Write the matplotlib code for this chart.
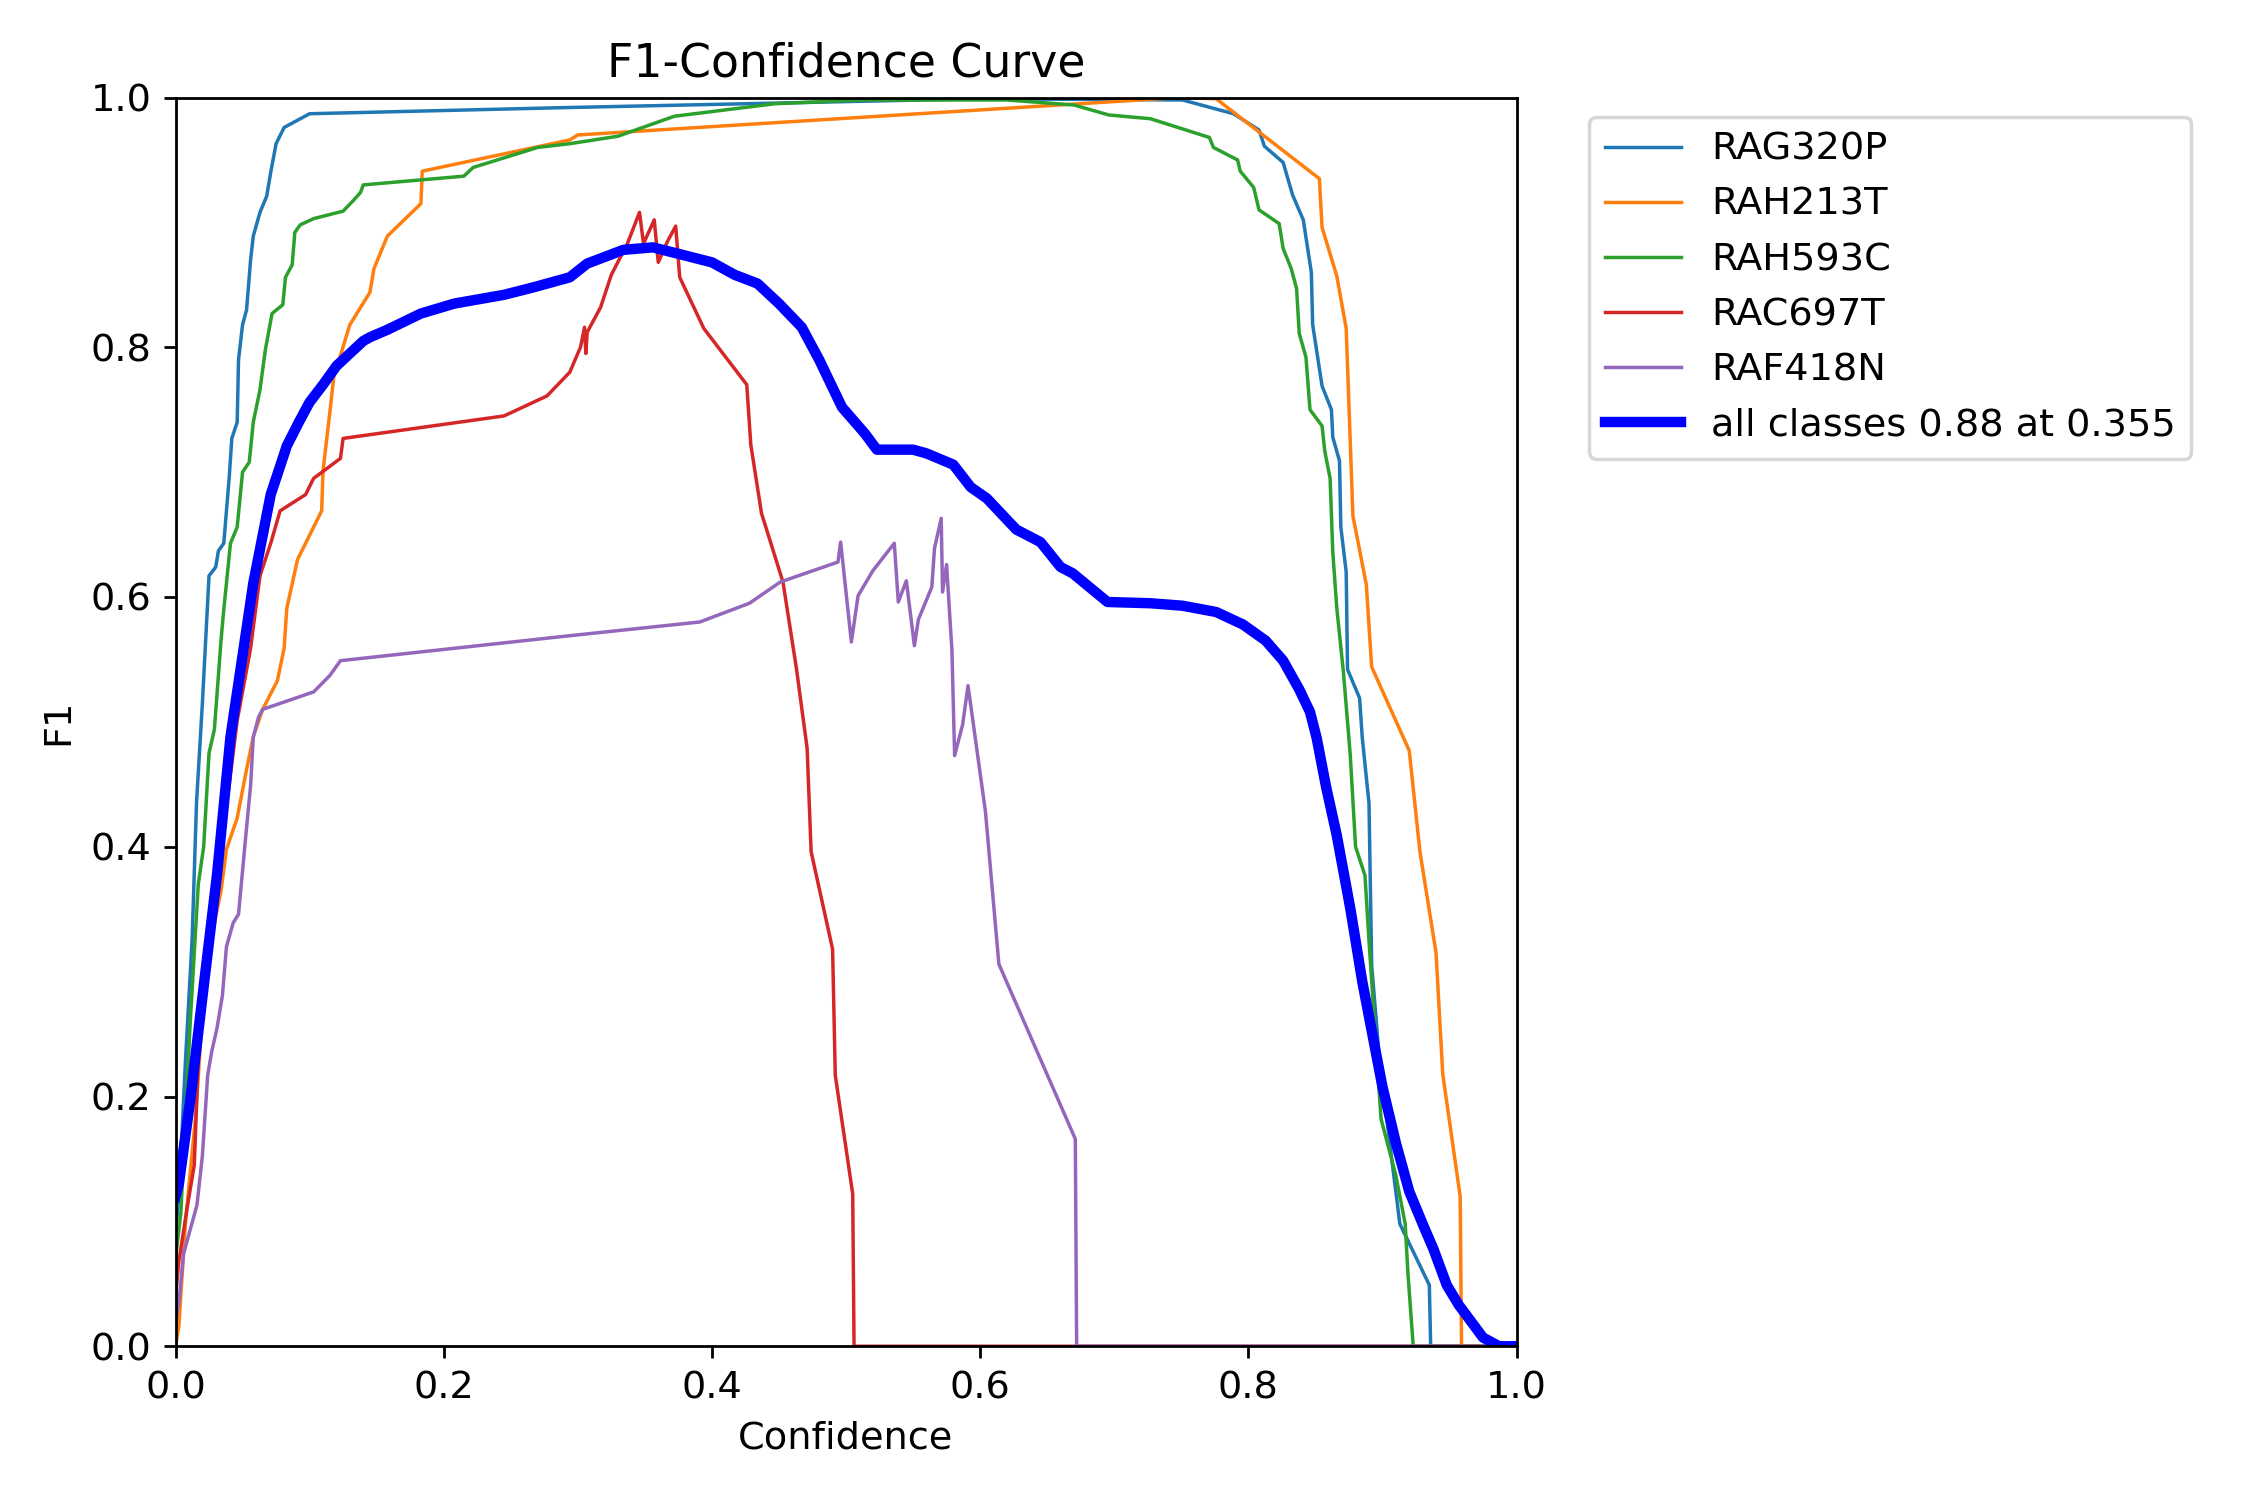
import numpy as np
import matplotlib
matplotlib.use('Agg')
import matplotlib.pyplot as plt

plt.rcParams['font.size'] = 11

names = ['RAG320P', 'RAH213T', 'RAH593C', 'RAC697T', 'RAF418N']

# RAG320P
c0_x = [0.0, 0.0025, 0.0075, 0.0124, 0.0157, 0.02, 0.025, 0.03, 0.032, 0.036, 0.04, 0.042, 0.046,
        0.047, 0.05, 0.053, 0.056, 0.058, 0.063, 0.068, 0.071, 0.075, 0.081, 0.1, 0.294, 0.6, 0.751,
        0.789, 0.808, 0.812, 0.826, 0.833, 0.841, 0.847, 0.848, 0.855, 0.862, 0.863, 0.868, 0.869,
        0.873, 0.874, 0.883, 0.885, 0.89, 0.892, 0.898, 0.913, 0.935, 0.936, 1.0]
c0_y = [0.09, 0.12, 0.23, 0.326, 0.436, 0.514, 0.617, 0.624, 0.637, 0.643, 0.695, 0.727, 0.74,
        0.79, 0.818, 0.83, 0.87, 0.889, 0.908, 0.921, 0.94, 0.963, 0.976, 0.987, 0.992, 0.999, 0.998,
        0.987, 0.974, 0.961, 0.948, 0.922, 0.902, 0.86, 0.818, 0.769, 0.75, 0.728, 0.709, 0.656,
        0.62, 0.542, 0.519, 0.487, 0.435, 0.305, 0.227, 0.098, 0.049, 0.0, 0.0]

# RAH213T
c1_x = [0.0, 0.0025, 0.0075, 0.015, 0.021, 0.029, 0.034, 0.038, 0.046, 0.053, 0.058, 0.065, 0.076,
        0.081, 0.083, 0.091, 0.109, 0.11, 0.115, 0.118, 0.13, 0.145, 0.148, 0.158, 0.183, 0.184,
        0.294, 0.3, 0.749, 0.776, 0.853, 0.855, 0.866, 0.873, 0.878, 0.888, 0.892, 0.92, 0.928,
        0.94, 0.945, 0.958, 0.959, 1.0]
c1_y = [0.0, 0.016, 0.1, 0.184, 0.281, 0.339, 0.365, 0.398, 0.423, 0.462, 0.488, 0.51, 0.533,
        0.559, 0.591, 0.63, 0.669, 0.701, 0.747, 0.776, 0.818, 0.844, 0.863, 0.889, 0.915, 0.941,
        0.966, 0.97, 1.0, 0.999, 0.935, 0.896, 0.857, 0.815, 0.665, 0.61, 0.544, 0.477, 0.396,
        0.315, 0.218, 0.12, 0.0, 0.0]

# RAH593C
c2_x = [0.0, 0.004, 0.011, 0.017, 0.021, 0.025, 0.029, 0.034, 0.036, 0.041, 0.046, 0.05, 0.055,
        0.058, 0.063, 0.067, 0.072, 0.08, 0.082, 0.087, 0.089, 0.093, 0.103, 0.125, 0.133, 0.138,
        0.14, 0.215, 0.222, 0.27, 0.294, 0.33, 0.372, 0.447, 0.511, 0.62, 0.67, 0.696, 0.727, 0.771,
        0.774, 0.792, 0.794, 0.804, 0.808, 0.823, 0.826, 0.832, 0.836, 0.838, 0.843, 0.846, 0.855,
        0.857, 0.861, 0.863, 0.866, 0.871, 0.873, 0.876, 0.88, 0.887, 0.89, 0.894, 0.899, 0.91,
        0.917, 0.919, 0.923, 1.0]
c2_y = [0.07, 0.107, 0.26, 0.37, 0.4, 0.475, 0.494, 0.566, 0.59, 0.643, 0.656, 0.7, 0.708,
        0.74, 0.766, 0.798, 0.827, 0.834, 0.856, 0.866, 0.892, 0.898, 0.903, 0.909, 0.918, 0.924,
        0.93, 0.937, 0.944, 0.96, 0.963, 0.969, 0.985, 0.995, 0.998, 0.998, 0.994, 0.986, 0.983,
        0.968, 0.96, 0.95, 0.941, 0.928, 0.91, 0.899, 0.879, 0.863, 0.847, 0.811, 0.792, 0.75,
        0.737, 0.717, 0.695, 0.636, 0.591, 0.539, 0.513, 0.474, 0.4, 0.377, 0.325, 0.26, 0.182,
        0.137, 0.098, 0.059, 0.0, 0.0]

# RAC697T
c3_x = [0.0, 0.0025, 0.009, 0.014, 0.017, 0.024, 0.031, 0.04, 0.046, 0.056, 0.063, 0.071, 0.078,
        0.097, 0.103, 0.123, 0.125, 0.245, 0.277, 0.294, 0.302, 0.305, 0.306, 0.307, 0.317, 0.325,
        0.337, 0.346, 0.349, 0.357, 0.36, 0.367, 0.373, 0.376, 0.394, 0.426, 0.429, 0.437, 0.453,
        0.463, 0.471, 0.474, 0.49, 0.492, 0.505, 0.506, 1.0]
c3_y = [0.04, 0.068, 0.113, 0.145, 0.23, 0.307, 0.385, 0.449, 0.501, 0.559, 0.617, 0.643, 0.669,
        0.682, 0.695, 0.711, 0.727, 0.745, 0.761, 0.78, 0.80, 0.816, 0.795, 0.812, 0.832, 0.858,
        0.883, 0.908, 0.883, 0.902, 0.868, 0.885, 0.897, 0.856, 0.815, 0.77, 0.722, 0.667, 0.612,
        0.543, 0.479, 0.396, 0.318, 0.217, 0.122, 0.0, 0.0]

# RAF418N
c4_x = [0.0, 0.0025, 0.006, 0.016, 0.02, 0.024, 0.027, 0.031, 0.035, 0.038, 0.043, 0.047, 0.052,
        0.056, 0.058, 0.062, 0.065, 0.103, 0.115, 0.123, 0.294, 0.391, 0.428, 0.451, 0.494, 0.496,
        0.504, 0.509, 0.52, 0.536, 0.539, 0.545, 0.551, 0.554, 0.564, 0.566, 0.571, 0.572, 0.575,
        0.579, 0.581, 0.587, 0.591, 0.604, 0.614, 0.671, 0.672, 1.0]
c4_y = [0.02, 0.035, 0.074, 0.113, 0.152, 0.217, 0.236, 0.255, 0.281, 0.32, 0.339, 0.346, 0.404,
        0.449, 0.488, 0.504, 0.51, 0.524, 0.537, 0.549, 0.569, 0.58, 0.595, 0.612, 0.628, 0.644,
        0.564, 0.601, 0.621, 0.643, 0.596, 0.613, 0.561, 0.582, 0.608, 0.639, 0.663, 0.604, 0.626,
        0.557, 0.473, 0.498, 0.529, 0.428, 0.306, 0.166, 0.0, 0.0]

# all classes (mean)
all_x = [0.0, 0.0025, 0.011, 0.021, 0.031, 0.041, 0.05, 0.058, 0.071, 0.083, 0.092, 0.1, 0.11,
         0.12, 0.13, 0.14, 0.145, 0.158, 0.183, 0.208, 0.245, 0.267, 0.294, 0.307, 0.334, 0.356,
         0.4, 0.417, 0.434, 0.45, 0.467, 0.48, 0.497, 0.514, 0.523, 0.55, 0.56, 0.58, 0.593, 0.605,
         0.627, 0.645, 0.66, 0.669, 0.695, 0.727, 0.751, 0.776, 0.796, 0.813, 0.826, 0.838, 0.846,
         0.851, 0.858, 0.866, 0.876, 0.885, 0.9, 0.91, 0.92, 0.93, 0.938, 0.948, 0.957, 0.975,
         0.987, 1.0]
all_y = [0.12, 0.13, 0.197, 0.288, 0.378, 0.488, 0.553, 0.611, 0.682, 0.721, 0.74, 0.756, 0.77,
         0.785, 0.795, 0.805, 0.808, 0.814, 0.827, 0.835, 0.842, 0.848, 0.856, 0.867, 0.878, 0.88,
         0.868, 0.858, 0.851, 0.835, 0.816, 0.79, 0.752, 0.731, 0.718, 0.718, 0.715, 0.706, 0.688,
         0.679, 0.654, 0.644, 0.624, 0.619, 0.596, 0.595, 0.593, 0.588, 0.578, 0.565, 0.549, 0.526,
         0.508, 0.487, 0.448, 0.409, 0.351, 0.292, 0.208, 0.163, 0.124, 0.098, 0.078, 0.049, 0.033,
         0.007, 0.0, 0.0]

class_x = [c0_x, c1_x, c2_x, c3_x, c4_x]
class_y = [c0_y, c1_y, c2_y, c3_y, c4_y]

fig, ax = plt.subplots(1, 1, figsize=(9, 6), dpi=250)
fig.subplots_adjust(left=0.078, right=0.674, bottom=0.1025, top=0.935)

for i, name in enumerate(names):
    ax.plot(class_x[i], class_y[i], linewidth=1, label=name)

ax.plot(all_x, all_y, linewidth=3, color='blue', label='all classes 0.88 at 0.355')

ax.set_xlabel('Confidence')
ax.set_ylabel('F1')
ax.set_xlim(0, 1)
ax.set_ylim(0, 1)
ax.legend(bbox_to_anchor=(1.04, 1), loc='upper left')
ax.set_title('F1-Confidence Curve')

fig.savefig('out.png', dpi=250)
